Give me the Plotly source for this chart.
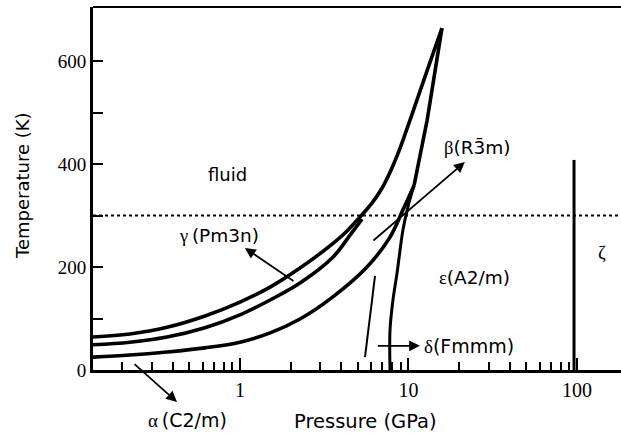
import math
import plotly.graph_objects as go

# ---- data (P in GPa, T in K) ----
melt_P = [0.134, 0.222, 0.369, 0.620, 1.0, 1.51, 2.27, 3.42, 4.20, 5.15, 6.07, 6.96, 7.87, 8.91, 10.2, 12.7, 15.8]
melt_T = [64, 70, 83, 105, 132, 161, 198, 241, 266, 297, 324, 353, 388, 431, 485, 575, 664]

gb_P = [0.134, 0.222, 0.369, 0.620, 1.0, 1.51, 2.27, 3.56, 4.50, 5.30]
gb_T = [49, 54, 64, 82, 107, 136, 169, 219, 262, 293]

ab_P = [0.134, 0.222, 0.369, 0.620, 1.0, 1.51, 2.27, 3.56, 5.67, 7.77, 9.27, 10.8]
ab_T = [25, 29, 35, 43, 54, 72, 99, 142, 200, 258, 311, 359]

eps_P = [7.77, 7.77, 8.09, 8.55, 9.27, 9.93, 10.8]
eps_T = [0, 78, 136, 188, 272, 317, 359]

peak_P = [10.8, 12.9, 15.8]
peak_T = [359, 485, 664]

delta_P = [6.33, 5.52]
delta_T = [183, 25]

zeta_P = [96, 96]
zeta_T = [0, 408]

room_T = 300

x_tick_vals = [1, 10, 100]
x_tick_text = ["1", "10", "100"]
x_minor_vals = [0.2, 0.3, 0.4, 0.5, 0.6, 0.7, 0.8, 0.9,
                2, 3, 4, 5, 6, 7, 8, 9, 20, 30, 40, 50, 60, 70, 80, 90]
y_tick_vals = [0, 100, 200, 300, 400, 500, 600]
y_tick_text = ["0", "", "200", "", "400", "", "600"]

SANS = "DejaVu Sans"
SERIF = "Liberation Serif"

fig = go.Figure()

def line(px, py, w, shape="spline"):
    fig.add_trace(go.Scatter(x=px, y=py, mode="lines",
                             line=dict(color="black", width=w, shape=shape),
                             showlegend=False, hoverinfo="skip"))

line(melt_P, melt_T, 3.6)
line(gb_P, gb_T, 3.6)
line(ab_P, ab_T, 3.6)
line(eps_P, eps_T, 3.0)
line(peak_P, peak_T, 3.6, "linear")
line(delta_P, delta_T, 2.0, "linear")
line(zeta_P, zeta_T, 3.0, "linear")

L = math.log10

def g(s):
    return '<span style="font-family:%s">%s</span>' % (SERIF, s)

anns = []
# arrows (head -> tail)
for (hp, ht, tp, tt) in [(1.07, 237, 2.12, 171),
                         (21.6, 404, 6.07, 249),
                         (0.423, -62, 0.232, 14),
                         (11.7, 47, 6.45, 47)]:
    anns.append(dict(x=L(hp), y=ht, ax=L(tp), ay=tt, xref="x", yref="y",
                     axref="x", ayref="y", showarrow=True, arrowhead=2,
                     arrowsize=1.2, arrowwidth=1.8, arrowcolor="black", text=""))

labels = [
    (0.849, 379, "fluid", "center", 18),
    (0.75, 262, g("γ") + "\u2009(Pm3n)", "center", 18.5),
    (25.5, 433, g("β") + "(R3\u0304m)", "center", 18.5),
    (24.8, 179, g("ε") + "(A2/m)", "center", 18.5),
    (12.0, 47, g("δ") + "(Fmmm)", "left", 19),
    (141, 229, g("ζ"), "center", 19),
]
for (p, t, txt, xa, fs) in labels:
    anns.append(dict(x=L(p), y=t, xref="x", yref="y", text=txt, showarrow=False,
                     xanchor=xa, yanchor="middle",
                     font=dict(family=SANS, size=fs, color="black")))
# alpha label sits below the axis
anns.append(dict(x=L(0.49), y=(370 - 420) / 363, xref="x", yref="paper",
                 text=g("α") + "\u2009(C2/m)", showarrow=False, xanchor="center",
                 yanchor="middle", font=dict(family=SANS, size=19, color="black")))

# axis titles
anns.append(dict(x=(365 - 93) / 528, y=(370 - 421) / 363, xref="paper", yref="paper",
                 text="Pressure (GPa)", showarrow=False, xanchor="center", yanchor="middle",
                 font=dict(family=SANS, size=19.5, color="black")))
anns.append(dict(x=(22 - 93) / 528, y=(370 - 186) / 363, xref="paper", yref="paper",
                 text="Temperature (K)", showarrow=False, textangle=-90,
                 xanchor="center", yanchor="middle",
                 font=dict(family=SANS, size=18, color="black")))

shapes = [
    dict(type="line", xref="paper", yref="y", x0=0, x1=1, y0=room_T, y1=room_T,
         line=dict(color="black", width=2, dash="dot")),
    dict(type="line", xref="paper", yref="paper", x0=0, x1=1, y0=1, y1=1,
         line=dict(color="black", width=2)),
]

fig.update_layout(
    width=621, height=439,
    margin=dict(l=93, r=0, t=7, b=69),
    paper_bgcolor="white", plot_bgcolor="white",
    annotations=anns, shapes=shapes,
    xaxis=dict(type="log", range=[-0.872, 2.261], showgrid=False, zeroline=False,
               showline=True, linecolor="black", linewidth=3,
               tickmode="array", tickvals=x_tick_vals, ticktext=x_tick_text,
               ticks="inside", ticklen=12, tickwidth=2, tickcolor="black",
               minor=dict(tickmode="array", tickvals=x_minor_vals, ticks="inside",
                          ticklen=8, tickwidth=2, tickcolor="black", showgrid=False),
               tickfont=dict(family=SERIF, size=20, color="black")),
    yaxis=dict(range=[0, 705], showgrid=False, zeroline=False,
               showline=True, linecolor="black", linewidth=3,
               tickmode="array", tickvals=y_tick_vals, ticktext=y_tick_text,
               ticks="inside", ticklen=10, tickwidth=2, tickcolor="black",
               tickfont=dict(family=SERIF, size=19, color="black")),
)

fig.write_html("out.html", config={"displayModeBar": False},
               post_script="document.body.style.margin='0';document.body.style.overflow='hidden';")
